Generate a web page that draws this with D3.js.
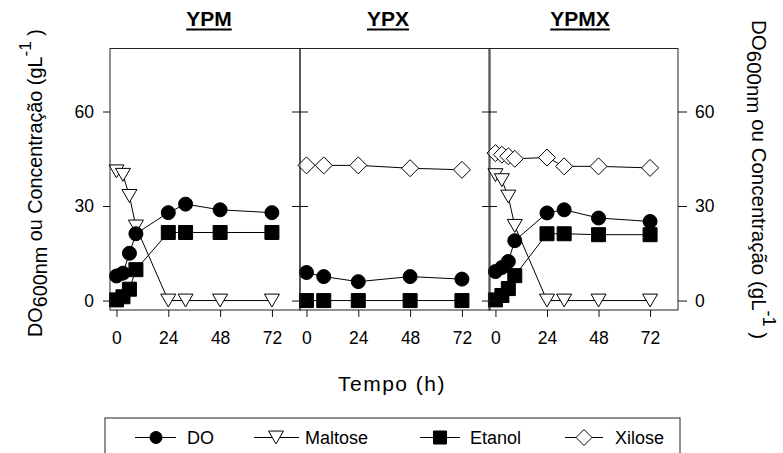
<!DOCTYPE html>
<html>
<head>
<meta charset="utf-8">
<script src="https://cdn.jsdelivr.net/npm/d3@7"></script>
<style>
  html, body { margin: 0; padding: 0; background: #fff; }
  svg { display: block; }
  text { font-family: "Liberation Sans", Arial, sans-serif; fill: #000; }
</style>
</head>
<body>
<svg id="chart" width="783" height="453"></svg>
<script>
// Fermentation time points (h)
const timesMix = [0, 3, 6, 9, 24, 32, 48, 72];
const timesYPX = [0, 8, 24, 48, 72];

const panelNames = ["YPM", "YPX", "YPMX"];
const xTickValues = [0, 24, 48, 72];
const yTickValues = [0, 30, 60];
const seriesNames = ["DO", "Maltose", "Etanol", "Xilose"];

// YPM medium
const doYPM      = [7.8, 8.7, 15.0, 21.2, 27.9, 30.6, 28.8, 27.9];
const maltoseYPM = [41.0, 39.9, 33.2, 23.5, 0, 0, 0, 0];
const etanolYPM  = [0.2, 1.2, 3.6, 9.8, 21.6, 21.6, 21.6, 21.6];

// YPX medium
const doYPX      = [8.9, 7.6, 6.0, 7.6, 6.8];
const etanolYPX  = [0, 0, 0, 0, 0];
const xiloseYPX  = [42.9, 42.9, 42.9, 42.0, 41.5];

// YPMX medium
const doYPMX      = [9.2, 10.5, 12.4, 19.0, 27.8, 28.8, 26.2, 25.1];
const maltoseYPMX = [39.8, 38.2, 33.0, 23.7, 0, 0, 0, 0];
const etanolYPMX  = [0.2, 1.6, 3.8, 7.9, 21.2, 21.2, 20.9, 20.9];
const xiloseYPMX  = [46.8, 46.3, 45.8, 45.0, 45.4, 42.6, 42.6, 42.1];

const panelData = [
  { name: "YPM",  t: timesMix, DO: doYPM,  Maltose: maltoseYPM,  Etanol: etanolYPM,  Xilose: null },
  { name: "YPX",  t: timesYPX, DO: doYPX,  Maltose: null,        Etanol: etanolYPX,  Xilose: xiloseYPX },
  { name: "YPMX", t: timesMix, DO: doYPMX, Maltose: maltoseYPMX, Etanol: etanolYPMX, Xilose: xiloseYPMX }
];

const svg = d3.select("#chart");
const plotTop = 48.5, plotBottom = 310;
const panelLeft = [110, 300, 489];
const panelRight = [300, 490, 678];
const titleX = [209, 388, 580];

const y = d3.scaleLinear().domain([-3, 80]).range([plotBottom, plotTop]);

// symbol shapes
const symbolPath = {
  DO: r => `M${-r},0A${r},${r} 0 1,0 ${r},0A${r},${r} 0 1,0 ${-r},0Z`,
  Maltose: s => `M${-s/2},${-s*0.43}L${s/2},${-s*0.43}L0,${s*0.43}Z`,
  Etanol: s => `M${-s/2},${-s/2}H${s/2}V${s/2}H${-s/2}Z`,
  Xilose: s => `M0,${-s/2}L${s/2},0L0,${s/2}L${-s/2},0Z`
};
const symbolSize = { DO: 7, Maltose: 15, Etanol: 14, Xilose: 17 };
const symbolFill = { DO: "#000", Maltose: "#fff", Etanol: "#000", Xilose: "#fff" };
const drawOrder = ["Maltose", "Xilose", "DO", "Etanol"];

function styleAxis(g) {
  g.select(".domain").remove();
  g.selectAll(".tick line").attr("stroke", "#111").attr("stroke-width", 1);
  g.selectAll(".tick text").attr("font-size", 17.5).attr("fill", "#000")
    .attr("font-family", "'Liberation Sans', Arial, sans-serif");
}

panelData.forEach((p, i) => {
  const x = d3.scaleLinear().domain([-3, 85]).range([panelLeft[i], panelRight[i]]);
  const g = svg.append("g");

  // connecting lines
  const line = d3.line().x(d => x(d[0])).y(d => y(d[1]));
  drawOrder.forEach(s => {
    if (!p[s]) return;
    const pts = p.t.map((t, k) => [t, p[s][k]]);
    g.append("path").attr("d", line(pts)).attr("fill", "none")
      .attr("stroke", "#000").attr("stroke-width", 1);
  });
  // symbols
  drawOrder.forEach(s => {
    if (!p[s]) return;
    const pts = p.t.map((t, k) => [t, p[s][k]]);
    g.selectAll(null).data(pts).enter().append("path")
      .attr("transform", d => `translate(${x(d[0])},${y(d[1])})`)
      .attr("d", symbolPath[s](symbolSize[s]))
      .attr("fill", symbolFill[s])
      .attr("stroke", "#000").attr("stroke-width", 1);
  });

  // frame
  svg.append("rect")
    .attr("x", panelLeft[i]).attr("y", plotTop)
    .attr("width", panelRight[i] - panelLeft[i]).attr("height", plotBottom - plotTop)
    .attr("fill", "none").attr("stroke", "#222").attr("stroke-width", 1);

  // bottom axis
  svg.append("g").attr("transform", `translate(0,${plotBottom})`)
    .call(d3.axisBottom(x).tickValues(xTickValues).tickSize(7).tickPadding(15))
    .call(styleAxis);

  // vertical axes
  if (i === 0) {
    svg.append("g").attr("transform", `translate(${panelLeft[i]},0)`)
      .call(d3.axisLeft(y).tickValues(yTickValues).tickSize(7).tickPadding(9))
      .call(styleAxis);
  } else {
    svg.append("g").attr("transform", `translate(${panelLeft[i]},0)`)
      .call(d3.axisLeft(y).tickValues(yTickValues).tickSize(-8).tickFormat(""))
      .call(styleAxis);
  }
  if (i === 2) {
    svg.append("g").attr("transform", `translate(${panelRight[i]},0)`)
      .call(d3.axisRight(y).tickValues(yTickValues).tickSize(9).tickPadding(8))
      .call(styleAxis);
  } else {
    svg.append("g").attr("transform", `translate(${panelRight[i]},0)`)
      .call(d3.axisRight(y).tickValues(yTickValues).tickSize(-8).tickFormat(""))
      .call(styleAxis);
  }

  // panel title, underlined
  const tt = svg.append("text").attr("x", titleX[i]).attr("y", 26)
    .attr("text-anchor", "middle").attr("font-size", 21).attr("font-weight", "bold")
    .text(panelNames[i]);
  const w = tt.node().getComputedTextLength();
  svg.append("line").attr("x1", titleX[i] - w / 2).attr("x2", titleX[i] + w / 2)
    .attr("y1", 29.5).attr("y2", 29.5).attr("stroke", "#000").attr("stroke-width", 2.2);
});

// x axis title
svg.append("text").attr("x", 392).attr("y", 391).attr("text-anchor", "middle")
  .attr("font-size", 21).attr("letter-spacing", "1.5px").text("Tempo (h)");

// y axis titles with subscript / superscript
function yTitle(transform, size, sub, sup) {
  const t = svg.append("text").attr("transform", transform).attr("font-size", size);
  t.append("tspan").text("DO");
  t.append("tspan").attr("dy", sub).text("600nm");
  t.append("tspan").attr("dy", -sub).text(" ou Concentração (gL");
  t.append("tspan").attr("dy", sup).attr("font-size", size - 2.5).text("-1");
  t.append("tspan").attr("dy", -sup).text(" )");
}
yTitle("translate(42,337) rotate(-90)", 19.8, 5, -11);
yTitle("translate(752,20) rotate(90)", 20.5, 5, -11);

// legend
svg.append("rect").attr("x", 105).attr("y", 418).attr("width", 575).attr("height", 50)
  .attr("fill", "#fff").attr("stroke", "#222").attr("stroke-width", 1);
const legendItems = [
  { s: "DO",      x1: 135, x2: 176, m: 156, tx: 187, size: 6 },
  { s: "Maltose", x1: 254, x2: 299, m: 276, tx: 305, size: 15 },
  { s: "Etanol",  x1: 420, x2: 460, m: 440, tx: 470, size: 13 },
  { s: "Xilose",  x1: 565, x2: 603, m: 584, tx: 615, size: 16 }
];
const ly = 437.5;
legendItems.forEach(it => {
  svg.append("line").attr("x1", it.x1).attr("x2", it.x2).attr("y1", ly).attr("y2", ly)
    .attr("stroke", "#000").attr("stroke-width", 1);
  svg.append("path").attr("transform", `translate(${it.m},${ly})`)
    .attr("d", symbolPath[it.s](it.size)).attr("fill", symbolFill[it.s])
    .attr("stroke", "#000").attr("stroke-width", 1);
  svg.append("text").attr("x", it.tx).attr("y", 444).attr("font-size", 18).text(it.s);
});
</script>
</body>
</html>
